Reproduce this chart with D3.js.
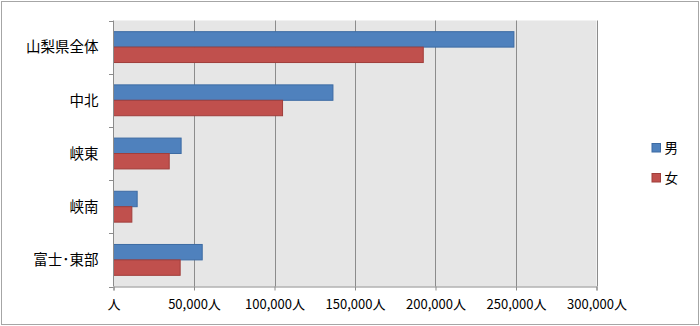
<!DOCTYPE html>
<html>
<head>
<meta charset="utf-8">
<script src="https://cdn.jsdelivr.net/npm/d3@7"></script>
<style>
  html, body { margin: 0; padding: 0; background: #fff; }
  svg { display: block; }
  text { font-family: "Noto Sans CJK JP", "Noto Sans", sans-serif; fill: #000; }
</style>
</head>
<body>
<svg id="chart" width="700" height="326"></svg>
<script>
// 地域別人口（男女別）
const regions = ["山梨県全体", "中北", "峡東", "峡南", "富士･東部"];
const male    = [248700, 136300, 42000, 14700, 55100];
const female  = [192400, 105000, 34600, 11400, 41400];
const seriesNames = ["男", "女"];
const xTicks = [0, 50000, 100000, 150000, 200000, 250000, 300000];

const colors = { fill: ["#4f81bd", "#c0504d"], stroke: ["#3d6ba3", "#a03e3b"] };

const svg = d3.select("#chart");
const W = 700, H = 326;
const plot = { left: 113.5, right: 596.5, top: 20.5, bottom: 286.5 };

// outer frame
svg.append("rect")
  .attr("x", 1.5).attr("y", 1.5).attr("width", W - 3).attr("height", H - 3)
  .attr("fill", "#fff").attr("stroke", "#a6a6a6").attr("stroke-width", 1);

const x = d3.scaleLinear().domain([0, 300000]).range([plot.left, plot.right]);
const y = d3.scaleBand().domain(regions).range([plot.top, plot.bottom]).paddingInner(0.42).paddingOuter(0.21);
const ySub = d3.scaleBand().domain(seriesNames).range([0, y.bandwidth()]);

// plot background
svg.append("rect")
  .attr("x", plot.left).attr("y", plot.top)
  .attr("width", plot.right - plot.left).attr("height", plot.bottom - plot.top)
  .attr("fill", "#e6e6e6");

// vertical gridlines
svg.append("g").selectAll("line").data(xTicks.slice(1)).join("line")
  .attr("x1", d => Math.round(x(d)) + 0.5).attr("x2", d => Math.round(x(d)) + 0.5)
  .attr("y1", plot.top).attr("y2", plot.bottom)
  .attr("stroke", "#8c8c8c").attr("stroke-width", 1);

// bars
const data = regions.map((r, i) => ({ region: r, values: [male[i], female[i]] }));
const groups = svg.append("g").selectAll("g").data(data).join("g")
  .attr("transform", d => `translate(0,${y(d.region)})`);
groups.selectAll("rect").data(d => d.values.map((v, j) => ({ v, j }))).join("rect")
  .attr("x", x(0))
  .attr("y", d => ySub(seriesNames[d.j]))
  .attr("width", d => x(d.v) - x(0))
  .attr("height", ySub.bandwidth())
  .attr("fill", d => colors.fill[d.j])
  .attr("stroke", d => colors.stroke[d.j])
  .attr("stroke-width", 1);

// x axis
const xAxis = d3.axisBottom(x).tickValues(xTicks).tickSize(4).tickPadding(9)
  .tickFormat(d => (d === 0 ? "" : d3.format(",")(d)) + "人");
const gx = svg.append("g").attr("transform", `translate(0,${plot.bottom})`).call(xAxis);
gx.select(".domain").attr("stroke", "#8c8c8c");
gx.selectAll(".tick line").attr("stroke", "#8c8c8c");
gx.selectAll(".tick text").attr("font-size", 13).attr("font-family", "\"Noto Sans CJK JP\", sans-serif").attr("fill", "#000");

// y axis: ticks at category boundaries
const bounds = d3.range(regions.length + 1).map(i => plot.top + i * (plot.bottom - plot.top) / regions.length);
svg.append("line")
  .attr("x1", plot.left).attr("x2", plot.left).attr("y1", plot.top).attr("y2", plot.bottom)
  .attr("stroke", "#8c8c8c");
svg.append("g").selectAll("line").data(bounds).join("line")
  .attr("x1", plot.left - 4.5).attr("x2", plot.left)
  .attr("y1", d => Math.round(d) + 0.5).attr("y2", d => Math.round(d) + 0.5)
  .attr("stroke", "#8c8c8c");

// category labels
svg.append("g").selectAll("text").data(regions).join("text")
  .attr("x", 98.5)
  .attr("y", d => y(d) + y.bandwidth() / 2)
  .attr("dy", "0.36em")
  .attr("text-anchor", "end")
  .attr("font-size", 14.5)
  .text(d => d);

// legend
const legend = svg.append("g");
seriesNames.forEach((name, j) => {
  const ly = 143.5 + j * 30;
  legend.append("rect")
    .attr("x", 652).attr("y", ly).attr("width", 8.5).attr("height", 8.5)
    .attr("fill", colors.fill[j]).attr("stroke", colors.stroke[j]);
  legend.append("text")
    .attr("x", 664.5).attr("y", ly + 4.5).attr("dy", "0.36em")
    .attr("font-size", 13.5)
    .text(name);
});
</script>
</body>
</html>
